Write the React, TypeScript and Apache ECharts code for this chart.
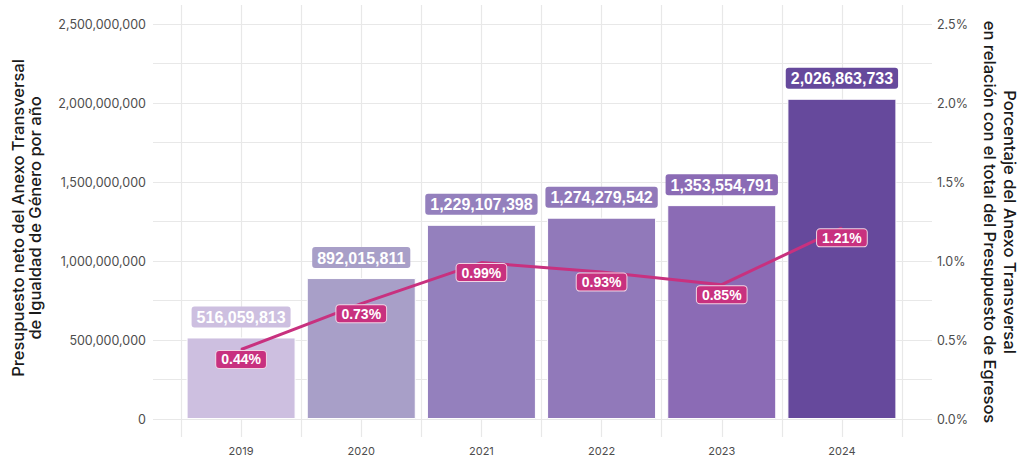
import React, { useEffect, useRef } from "react";
import * as echarts from "echarts";

const years = ["2019", "2020", "2021", "2022", "2023", "2024"];
const budget = [516059813, 892015811, 1229107398, 1274279542, 1353554791, 2026863733];
const pct = [0.44, 0.73, 0.99, 0.93, 0.85, 1.21];
const barColors = ["#cdbfe0", "#a89fc8", "#9480bd", "#9179ba", "#8b6bb5", "#66499c"];
const lineColor = "#c8317f";
const leftTitle = "Presupuesto neto del Anexo Transversal\nde Igualdad de Género por año";
const rightTitle = "Porcentaje del Anexo Transversal\nen relación con el total del Presupuesto de Egresos";

const axisFont = "Inter, 'Open Sans', sans-serif";
const labelFont = "'Liberation Sans', Arial, sans-serif";
const gridColor = "#e8e8e8";

const fmt = (v: number) => v.toLocaleString("en-US");
const isInt = (v: number) => Math.abs(v - Math.round(v)) < 1e-6;

export default function App() {
  const ref = useRef<HTMLDivElement>(null);
  useEffect(() => {
    if (!ref.current) return;
    const chart = echarts.init(ref.current, undefined, { renderer: "svg" });
    const option: any = {
      animation: false,
      backgroundColor: "#ffffff",
      grid: [
        { left: 153, right: 89, top: 24, bottom: 42 },
        { left: 181, right: 119, top: 5, bottom: 24 },
        { left: 181, right: 119, top: 24, bottom: 42 },
      ],
      xAxis: [
        { type: "value", gridIndex: 0, min: 0, max: 1, show: false },
        {
          type: "value",
          gridIndex: 1,
          min: 0.5,
          max: 6.5,
          interval: 0.5,
          axisLine: { show: false },
          axisTick: { show: false },
          splitLine: { show: true, lineStyle: { color: gridColor, width: 1.2 } },
          axisLabel: {
            margin: 8,
            color: "#4d4d4d",
            fontSize: 11,
            fontFamily: axisFont,
            showMinLabel: true,
            showMaxLabel: true,
            formatter: (v: number) => (isInt(v) ? years[Math.round(v) - 1] || "" : ""),
          },
        },
        { type: "value", gridIndex: 2, min: 0.5, max: 6.5, show: false },
      ],
      yAxis: [
        {
          type: "value",
          gridIndex: 0,
          position: "left",
          min: 0,
          max: 2500000000,
          interval: 250000000,
          axisLine: { show: false },
          axisTick: { show: false },
          splitLine: { show: true, lineStyle: { color: gridColor, width: 1.2 } },
          axisLabel: {
            margin: 7,
            color: "#4d4d4d",
            fontSize: 12.5,
            fontFamily: axisFont,
            formatter: (v: number) => (Math.round(v) % 500000000 === 0 ? fmt(Math.round(v)) : ""),
          },
        },
        {
          type: "value",
          gridIndex: 0,
          position: "right",
          min: 0,
          max: 2.5,
          interval: 0.25,
          axisLine: { show: false },
          axisTick: { show: false },
          splitLine: { show: false },
          axisLabel: {
            margin: 5,
            color: "#4d4d4d",
            fontSize: 12.5,
            fontFamily: axisFont,
            formatter: (v: number) => (isInt(v * 2) ? v.toFixed(1) + "%" : ""),
          },
        },
        { type: "value", gridIndex: 1, min: 0, max: 1, show: false, splitLine: { show: false } },
        { type: "value", gridIndex: 2, min: 0, max: 2500000000, show: false, splitLine: { show: false } },
        { type: "value", gridIndex: 2, min: 0, max: 2.5, show: false, splitLine: { show: false } },
      ],
      series: [
        {
          type: "bar",
          xAxisIndex: 2,
          yAxisIndex: 3,
          barWidth: 109,
          itemStyle: { borderColor: "#ffffff", borderWidth: 1 },
          data: budget.map((v, i) => ({
            value: [i + 1, v],
            itemStyle: { color: barColors[i] },
            label: { backgroundColor: barColors[i] },
          })),
          label: {
            show: true,
            position: "top",
            distance: 10,
            color: "#ffffff",
            fontSize: 16,
            fontWeight: "bold",
            fontFamily: labelFont,
            padding: [3, 5, 2, 5],
            borderRadius: 3,
            formatter: (p: any) => fmt(p.value[1]),
          },
          z: 2,
        },
        {
          type: "line",
          xAxisIndex: 2,
          yAxisIndex: 4,
          data: pct.map((v, i) => [i + 1, v]),
          symbol: "circle",
          symbolSize: 1,
          itemStyle: { color: lineColor },
          lineStyle: { color: lineColor, width: 3 },
          label: {
            show: true,
            position: "inside",
            offset: [0, 10],
            color: "#ffffff",
            fontSize: 14,
            fontWeight: "bold",
            fontFamily: labelFont,
            backgroundColor: lineColor,
            borderColor: "#f2d3e3",
            borderWidth: 1,
            borderRadius: 3,
            padding: [2, 5, 1, 5],
            formatter: (p: any) => p.value[1].toFixed(2) + "%",
          },
          z: 5,
        },
      ],
      graphic: [
        {
          type: "text",
          x: 26,
          y: 218,
          rotation: Math.PI / 2,
          style: {
            text: leftTitle,
            fontSize: 16.5,
            fontWeight: 500,
            fontFamily: axisFont,
            fill: "#1a1a1a",
            align: "center",
            verticalAlign: "middle",
            lineHeight: 17,
          },
        },
        {
          type: "text",
          x: 1000,
          y: 222,
          rotation: -Math.PI / 2,
          style: {
            text: rightTitle,
            fontSize: 16.5,
            fontWeight: 500,
            fontFamily: axisFont,
            fill: "#1a1a1a",
            align: "center",
            verticalAlign: "middle",
            lineHeight: 20,
          },
        },
      ],
    };
    chart.setOption(option);
    return () => chart.dispose();
  }, []);
  return (
    <div
      ref={ref}
      style={{ position: "absolute", left: 0, top: 0, width: 1021, height: 461 }}
    />
  );
}
